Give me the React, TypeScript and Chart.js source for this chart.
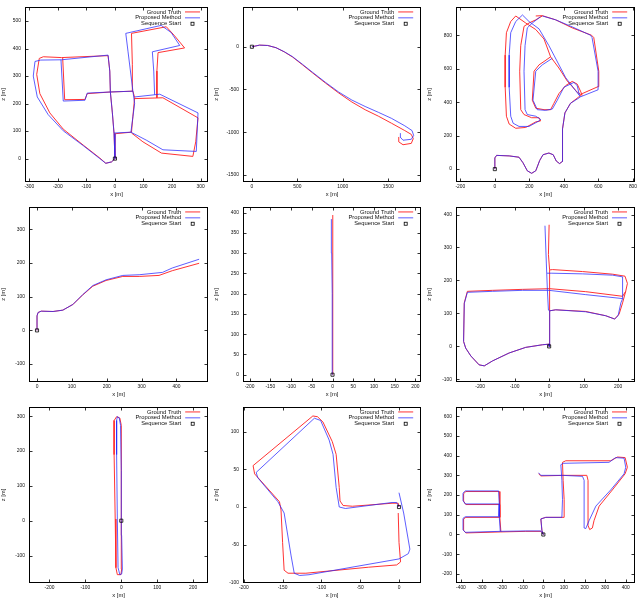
import React, { useEffect, useRef } from "react";
import { Chart, registerables } from "chart.js";

Chart.register(...registerables);

type Pt = [number, number] | null;

const FONT = "'Liberation Sans', Arial, Helvetica, sans-serif";
const RED = "rgba(255,40,40,0.95)";
const BLUE = "rgba(40,40,255,0.75)";
const TEXT = "#111";

const LABEL_TRUTH = "Ground Truth";
const LABEL_METHOD = "Proposed Method";
const LABEL_START = "Sequence Start";
const AXIS_X = "x [m]";
const AXIS_Z = "z [m]";

const startPoint: [number, number] = [0, 0];

// ---------- Sequence 00 ----------
const seq00Truth: Pt[] = [
  [0, 0], [-12, -12], [-32, -17], [-53, 2], [-111, 49], [-181, 107], [-228, 166], [-263, 236], [-274, 306], [-265, 364], [-251, 370], [-187, 367], [-24, 374], [-18, 318], [-16, 242], [-9, 166], [-3, 90], [0, 0], null,
  [-183, 366], [-176, 214], [-105, 215], [-97, 236], [-16, 242], null,
  [-16, 242], [63, 245], [69, 222], [63, 154], [58, 96], [-3, 90], null,
  [58, 93], [98, 61], [163, 20], [273, 8], [283, 61], [291, 148], [168, 221], [69, 218], null,
  [63, 245], [61, 341], [58, 455], [180, 479], [209, 446], [244, 402], [151, 385], [147, 318], [147, 221],
];
const seq00Method: Pt[] = [
  [0, 0], [-12, -12], [-32, -17], [-53, 0], [-111, 47], [-181, 101], [-234, 160], [-272, 224], [-286, 300], [-280, 353], [-260, 358], [-187, 359], [-24, 376], [-18, 318], [-16, 242], [-9, 166], [-3, 90], [0, 0], null,
  [-189, 359], [-181, 209], [-105, 212], [-97, 238], [-16, 242], null,
  [-16, 242], [63, 245], [69, 200], [56, 96], [-3, 93], null,
  [56, 96], [110, 67], [168, 32], [285, 26], [291, 166], [157, 234], [69, 224], null,
  [63, 245], [46, 388], [38, 455], [162, 484], [197, 458], [227, 411], [131, 388], [136, 318], [139, 232],
];
const seq00XTicks = [-300, -200, -100, 0, 100, 200, 300];
const seq00ZTicks = [0, 100, 200, 300, 400, 500];

// ---------- Sequence 01 ----------
const seq01Truth: Pt[] = [
  [0, 0], [84, 19], [174, 15], [265, -11], [356, -60], [447, -120], [556, -211], [665, -304], [810, -425], [955, -541], [1100, -647], [1246, -737], [1391, -812], [1536, -895], [1682, -981], [1754, -1026], [1776, -1075], [1754, -1131], [1663, -1147], [1616, -1113], [1616, -1056],
];
const seq01Method: Pt[] = [
  [0, 0], [84, 19], [174, 15], [265, -11], [356, -58], [447, -116], [556, -205], [665, -297], [810, -417], [955, -530], [1100, -624], [1246, -699], [1391, -767], [1536, -838], [1682, -925], [1762, -981], [1780, -1038], [1754, -1083], [1663, -1094], [1631, -1056], [1634, -1011],
];
const seq01XTicks = [0, 500, 1000, 1500];
const seq01ZTicks = [-1500, -1000, -500, 0];

// ---------- Sequence 02 ----------
const seq02Truth: Pt[] = [
  [0, 0], [0, 67], [10, 82], [83, 79], [140, 71], [163, 38], [188, -10], [213, -25], [237, -10], [260, 52], [279, 86], [313, 96], [338, 86], [356, 48], [375, 33], [394, 48], [394, 144], [390, 240], [406, 336], [438, 393], [487, 432], [506, 451], [598, 493], [602, 585], [573, 786], [560, 800], [448, 844], [352, 892], [275, 917], [237, 915], null,
  [121, 915], [179, 873], [237, 834], [285, 777], [323, 671], [371, 604], [419, 527], [477, 460], [506, 441], null,
  [323, 671], [285, 643], [256, 623], [227, 585], [217, 412], [237, 364], [285, 355], [323, 355], [342, 393], [371, 451], [410, 499], [448, 524], [477, 508], [496, 466], [506, 441], null,
  [121, 915], [92, 882], [67, 815], [60, 681], [60, 489], [67, 316], [83, 269], [121, 244], [179, 249], [237, 282], [265, 288], [256, 307], [213, 307], [169, 326], [150, 355], [144, 585], [150, 738], [169, 853], [198, 873], [237, 892], [275, 915],
];
const seq02Method: Pt[] = [
  [0, 0], [0, 67], [10, 82], [83, 79], [140, 71], [163, 38], [188, -10], [213, -25], [237, -10], [260, 52], [279, 86], [313, 96], [338, 86], [356, 48], [375, 33], [394, 48], [394, 144], [390, 240], [406, 336], [438, 393], [487, 425], [496, 432], [598, 474], [598, 585], [563, 786], [554, 800], [448, 850], [352, 892], [275, 915], null,
  [160, 921], [198, 882], [256, 838], [313, 738], [342, 681], [410, 547], [467, 470], [496, 432], null,
  [333, 662], [275, 623], [237, 585], [221, 412], [246, 355], [294, 351], [333, 359], [362, 412], [400, 489], [458, 518], [477, 499], [490, 441], null,
  [160, 921], [121, 882], [92, 815], [83, 681], [83, 489], [92, 316], [106, 274], [140, 255], [198, 255], [256, 288], [265, 297], [237, 316], [188, 326], [175, 355], [169, 585], [175, 738], [188, 844], [217, 873], [265, 911],
];
const seq02XTicks = [-200, 0, 200, 400, 600, 800];
const seq02ZTicks = [0, 200, 400, 600, 800];

// ---------- Sequence 03 ----------
const seq03Truth: Pt[] = [
  [0, 0], [0, 43], [3, 53], [12, 57], [46, 56], [74, 60], [103, 77], [131, 105], [160, 131], [198, 148], [246, 160], [293, 160], [350, 163], [388, 177], [465, 199],
];
const seq03Method: Pt[] = [
  [0, 0], [0, 43], [3, 53], [12, 57], [46, 56], [74, 60], [103, 77], [131, 106], [160, 133], [198, 150], [246, 163], [293, 165], [360, 172], [388, 185], [465, 211],
];
const seq03XTicks = [0, 100, 200, 300, 400];
const seq03ZTicks = [-100, 0, 100, 200, 300];

// ---------- Sequence 04 ----------
const seq04Truth: Pt[] = [[0, 0], [0, 100], [0.5, 200], [1, 300], [1, 394]];
const seq04Method: Pt[] = [[0, 0], [-0.5, 100], [-1, 200], [-2, 300], [-2.5, 360], [-3, 384]];
const seq04XTicks = [-200, -150, -100, -50, 0, 50, 100, 150, 200];
const seq04ZTicks = [0, 50, 100, 150, 200, 250, 300, 350, 400];

// ---------- Sequence 05 ----------
const seq05Truth: Pt[] = [
  [0, 0], [2, 5], [0, 93], [2, 108], [1, 175], [2, 232], [-2, 279], [0, 369], null,
  [2, 108], [19, 111], [106, 106], [164, 93], [190, 83], [203, 98], [213, 132], [222, 167], [227, 191], [220, 213], [184, 219], [97, 227], [10, 233], [2, 232], null,
  [-237, 167], [-164, 170], [-77, 173], [2, 175], [106, 166], [213, 152], [222, 167], null,
  [-237, 167], [-246, 132], [-248, 15], [-242, -5], [-227, -29], [-203, -56], [-188, -59], [-164, -44], [-116, -20], [-68, -3], [-19, 5], [2, 7], [0, 0],
];
const seq05Method: Pt[] = [
  [0, 0], [2, 5], [1, 93], [2, 108], [-2, 110], [-5, 170], [-8, 250], [-12, 366], null,
  [2, 108], [19, 111], [106, 105], [164, 93], [190, 83], [200, 93], [208, 132], [214, 147], [213, 167], [213, 211], [184, 216], [97, 220], [8, 222], [-6, 222], null,
  [-237, 164], [-164, 167], [-77, 170], [0, 170], [106, 157], [213, 145], null,
  [-237, 164], [-246, 130], [-248, 15], [-242, -5], [-227, -29], [-203, -56], [-188, -59], [-164, -44], [-116, -20], [-68, -3], [-19, 5], [2, 7], [0, 0],
];
const seq05XTicks = [-200, -100, 0, 100, 200];
const seq05ZTicks = [-100, 0, 100, 200, 300, 400];

// ---------- Sequence 06 ----------
const seq06Truth: Pt[] = [
  [0, 0], [0, 144], [0, 274], [-4, 295], [-13, 299], [-20, 288], [-20, 190], [-17, 5], [-15, -135], [-11, -155], [-1, -155], [1, -139], [0, -42], [0, 0],
];
const seq06Method: Pt[] = [
  [0, 0], [0, 144], [-2, 274], [-6, 296], [-11, 299], [-13, 288], [-13, 190], [-11, 5], [-9, -135], [-4, -155], [1, -153], [3, -139], [1, -42], [0, 0],
];
const seq06XTicks = [-200, -100, 0, 100, 200];
const seq06ZTicks = [-100, 0, 100, 200, 300];

// ---------- Sequence 07 ----------
const seq07Truth: Pt[] = [
  [0, 0], [-1, 5], [-9, 5], [-60, 1], [-72, 2], [-76, 8], [-77, 26], [-81, 70], [-86, 87], [-98, 113], [-105, 120], [-111, 121], [-188, 55], [-186, 44], [-154, 7], [-152, -4], [-150, -47], [-148, -84], [-143, -88], [-120, -88], [-39, -80], [-3, -77], [2, -73], [0, -47], [-1, -8],
];
const seq07Method: Pt[] = [
  [0, 0], [-3, 6], [-9, 6], [-69, -2], [-77, 0], [-81, 26], [-85, 70], [-90, 89], [-101, 115], [-109, 118], [-184, 46], [-182, 39], [-156, 7], [-148, -8], [-139, -65], [-135, -88], [-128, -91], [-116, -90], [0, -69], [12, -62], [14, -56], [6, -8], [0, 19],
];
const seq07XTicks = [-200, -150, -100, -50, 0];
const seq07ZTicks = [-100, -50, 0, 50, 100];

// ---------- Sequence 08 ----------
const seq08Truth: Pt[] = [
  [0, 0], [-7, 21], [-12, 79], [12, 87], [101, 87], [101, 177], [96, 275], [93, 366], [109, 374], [327, 374], [360, 393], [397, 390], [408, 341], [397, 308], [335, 226], [271, 144], [246, 70], [238, 33], [225, 25], [217, 46], [217, 275], [211, 300], [101, 300], [-12, 297], [-23, 308], null,
  [0, 0], [-12, 16], [-85, 16], [-206, 13], [-376, 8], [-387, 21], [-387, 79], [-376, 87], [-214, 87], [-211, 152], [-376, 152], [-387, 169], [-387, 207], [-376, 218], [-214, 218], [-211, 152], [-211, 87], [-206, 13],
];
const seq08Method: Pt[] = [
  [0, 0], [-7, 21], [-12, 79], [12, 87], [90, 87], [93, 177], [90, 275], [85, 354], [96, 361], [319, 366], [351, 390], [392, 387], [400, 341], [392, 308], [327, 226], [255, 144], [222, 70], [206, 30], [198, 33], [198, 275], [190, 295], [93, 300], [-12, 300], [-23, 313], null,
  [0, 0], [-12, 18], [-85, 18], [-209, 16], [-379, 11], [-390, 24], [-390, 82], [-379, 90], [-217, 90], [-214, 155], [-379, 155], [-390, 172], [-390, 210], [-379, 221], [-217, 221], [-214, 155], [-214, 90], [-209, 16],
];
const seq08XTicks = [-400, -300, -200, -100, 0, 100, 200, 300, 400];
const seq08ZTicks = [-200, -100, 0, 100, 200, 300, 400, 500, 600];

type PanelCfg = {
  truth: Pt[]; method: Pt[]; xTicks: number[]; zTicks: number[];
  xMin: number; xMax: number; zMin: number; zMax: number;
  left: number; top: number; w: number; h: number;
  yw: number; xh: number; pt: number; pr: number;
};

const panels: PanelCfg[] = [
  { truth: seq00Truth, method: seq00Method, xTicks: seq00XTicks, zTicks: seq00ZTicks, xMin: -315, xMax: 326, zMin: -85, zMax: 551, left: 0, top: 0, w: 213, h: 200, yw: 25, xh: 18, pt: 1, pr: 5 },
  { truth: seq01Truth, method: seq01Method, xTicks: seq01XTicks, zTicks: seq01ZTicks, xMin: -98, xMax: 1863, zMin: -1583, zMax: 466, left: 213, top: 0, w: 213, h: 200, yw: 30, xh: 18, pt: 1, pr: 3 },
  { truth: seq02Truth, method: seq02Method, xTicks: seq02XTicks, zTicks: seq02ZTicks, xMin: -225, xMax: 813, zMin: -77, zMax: 969, left: 426, top: 0, w: 214, h: 200, yw: 30, xh: 18, pt: 1, pr: 4 },
  { truth: seq03Truth, method: seq03Method, xTicks: seq03XTicks, zTicks: seq03ZTicks, xMin: -23, xMax: 491, zMin: -153, zMax: 366, left: 0, top: 200, w: 213, h: 200, yw: 29, xh: 18, pt: 1, pr: 4 },
  { truth: seq04Truth, method: seq04Method, xTicks: seq04XTicks, zTicks: seq04ZTicks, xMin: -216, xMax: 214, zMin: -18, zMax: 414, left: 213, top: 200, w: 213, h: 200, yw: 30, xh: 18, pt: 1, pr: 4 },
  { truth: seq05Truth, method: seq05Method, xTicks: seq05XTicks, zTicks: seq05ZTicks, xMin: -270, xMax: 249, zMin: -108, zMax: 423, left: 426, top: 200, w: 214, h: 200, yw: 30, xh: 18, pt: 1, pr: 5 },
  { truth: seq06Truth, method: seq06Method, xTicks: seq06XTicks, zTicks: seq06ZTicks, xMin: -257, xMax: 242, zMin: -179, zMax: 327, left: 0, top: 400, w: 213, h: 201, yw: 29, xh: 18, pt: 1, pr: 4 },
  { truth: seq07Truth, method: seq07Method, xTicks: seq07XTicks, zTicks: seq07ZTicks, xMin: -201, xMax: 28.6, zMin: -101, zMax: 133, left: 213, top: 400, w: 213, h: 201, yw: 30, xh: 18, pt: 1, pr: 4 },
  { truth: seq08Truth, method: seq08Method, xTicks: seq08XTicks, zTicks: seq08ZTicks, xMin: -424, xMax: 445, zMin: -246, zMax: 647, left: 426, top: 400, w: 214, h: 201, yw: 30, xh: 18, pt: 1, pr: 5 },
];

const toXY = (pts: Pt[]) => pts.map((p) => (p ? { x: p[0], y: p[1] } : { x: NaN, y: NaN }));

const framePlugin = {
  id: "gnuFrame",
  afterDraw(chart: any) {
    const { ctx, chartArea: a, scales } = chart;
    ctx.save();
    const L = Math.round(a.left) + 0.5, R = Math.round(a.right) - 0.5;
    const T = Math.round(a.top) + 0.5, B = Math.round(a.bottom) - 0.5;
    ctx.strokeStyle = "#000";
    ctx.lineWidth = 1;
    ctx.strokeRect(L, T, R - L, B - T);
    ctx.lineWidth = 0.8;
    const tk = 3;
    ctx.beginPath();
    for (const t of scales.x.ticks) {
      const px = Math.round(scales.x.getPixelForValue(t.value)) + 0.5;
      ctx.moveTo(px, B); ctx.lineTo(px, B - tk);
      ctx.moveTo(px, T); ctx.lineTo(px, T + tk);
    }
    for (const t of scales.y.ticks) {
      const py = Math.round(scales.y.getPixelForValue(t.value)) + 0.5;
      ctx.moveTo(L, py); ctx.lineTo(L + tk, py);
      ctx.moveTo(R, py); ctx.lineTo(R - tk, py);
    }
    ctx.stroke();

    // gnuplot-style key, top right inside the plot
    const ds = chart.data.datasets;
    const rows = [ds[2], ds[1], ds[0]];
    ctx.font = `5.8px ${FONT}`;
    ctx.textAlign = "right";
    ctx.textBaseline = "middle";
    rows.forEach((d: any, i: number) => {
      const y = a.top + 5 + i * 5.9;
      ctx.fillStyle = TEXT;
      ctx.fillText(d.label, a.right - 27, y);
      if (d.showLine) {
        ctx.strokeStyle = d.borderColor;
        ctx.lineWidth = 1;
        ctx.beginPath();
        ctx.moveTo(a.right - 23, y);
        ctx.lineTo(a.right - 8, y);
        ctx.stroke();
      } else {
        ctx.strokeStyle = "#000";
        ctx.lineWidth = 0.8;
        ctx.strokeRect(a.right - 17, y - 1.5, 3, 3);
      }
    });
    ctx.restore();
  },
};

function Panel({ cfg }: { cfg: PanelCfg }) {
  const ref = useRef<HTMLCanvasElement>(null);
  useEffect(() => {
    const tickFont = { family: FONT, size: 4.9 };
    const titleFont = { family: FONT, size: 5.8 };
    const chart = new Chart(ref.current as HTMLCanvasElement, {
      type: "scatter",
      data: {
        datasets: [
          {
            label: LABEL_START,
            data: [{ x: startPoint[0], y: startPoint[1] }],
            pointStyle: "rect",
            pointRadius: 2.2,
            borderColor: "#000",
            borderWidth: 0.8,
            backgroundColor: "rgba(0,0,0,0)",
            showLine: false,
          } as any,
          {
            label: LABEL_METHOD,
            data: toXY(cfg.method),
            showLine: true,
            pointRadius: 0,
            borderColor: BLUE,
            borderWidth: 1,
            spanGaps: false,
          } as any,
          {
            label: LABEL_TRUTH,
            data: toXY(cfg.truth),
            showLine: true,
            pointRadius: 0,
            borderColor: RED,
            borderWidth: 1,
            spanGaps: false,
          } as any,
        ],
      },
      options: {
        animation: false,
        responsive: false,
        events: [],
        layout: { padding: { left: 0, top: cfg.pt, right: cfg.pr, bottom: 0 } },
        plugins: { legend: { display: false }, tooltip: { enabled: false } },
        scales: {
          x: {
            type: "linear",
            position: "bottom",
            min: cfg.xMin,
            max: cfg.xMax,
            grid: { display: false, drawTicks: false },
            border: { display: false },
            ticks: {
              font: tickFont, color: TEXT, padding: 2, maxRotation: 0, autoSkip: false,
              callback: (v: any) => String(v),
            },
            afterBuildTicks: (s: any) => { s.ticks = cfg.xTicks.map((v) => ({ value: v })); },
            afterFit: (s: any) => { s.height = cfg.xh; },
            title: { display: true, text: AXIS_X, font: titleFont, color: TEXT, padding: { top: 0, bottom: 2.5 } },
          },
          y: {
            type: "linear",
            position: "left",
            min: cfg.zMin,
            max: cfg.zMax,
            grid: { display: false, drawTicks: false },
            border: { display: false },
            ticks: {
              font: tickFont, color: TEXT, padding: 4, autoSkip: false,
              callback: (v: any) => String(v),
            },
            afterBuildTicks: (s: any) => { s.ticks = cfg.zTicks.map((v) => ({ value: v })); },
            afterFit: (s: any) => { s.width = cfg.yw; },
            title: { display: true, text: AXIS_Z, font: titleFont, color: TEXT, padding: { top: 0, bottom: 0 } },
          },
        },
      } as any,
      plugins: [framePlugin],
    });
    return () => chart.destroy();
  }, [cfg]);
  return (
    <canvas
      ref={ref}
      width={cfg.w}
      height={cfg.h}
      style={{ position: "absolute", left: cfg.left, top: cfg.top, width: cfg.w, height: cfg.h }}
    />
  );
}

export default function App() {
  return (
    <div style={{ position: "fixed", left: 0, top: 0, width: 640, height: 601, background: "#fff", overflow: "hidden" }}>
      {panels.map((p, i) => (
        <Panel key={i} cfg={p} />
      ))}
    </div>
  );
}
